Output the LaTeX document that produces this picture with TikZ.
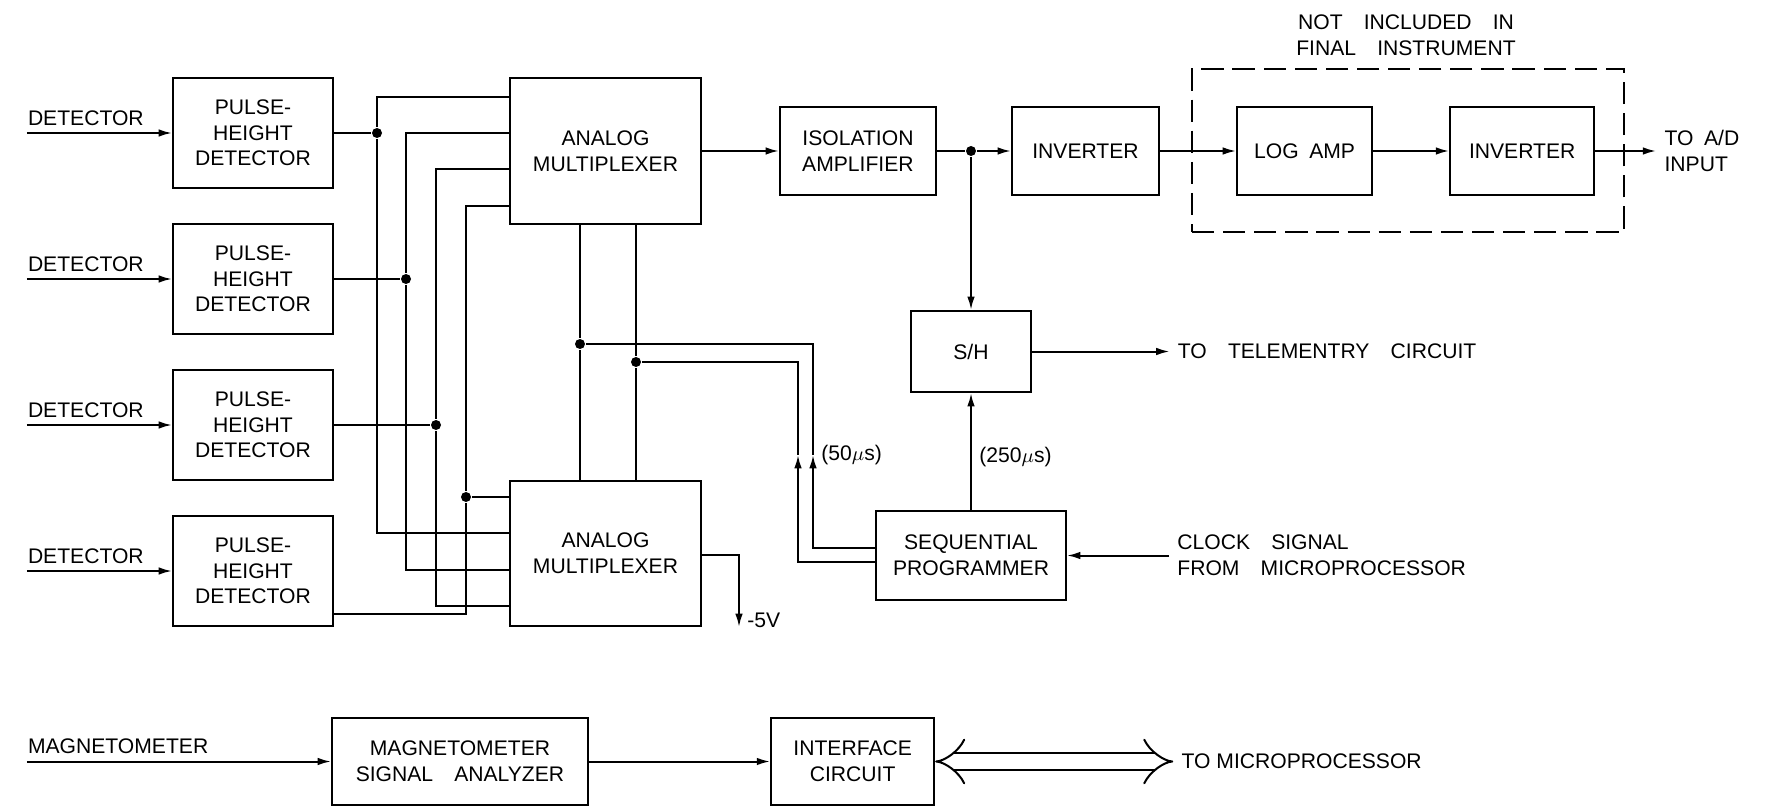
\documentclass[tikz,border=0pt]{standalone}
\usepackage{fontspec}
\setmainfont{Liberation Sans}
\usetikzlibrary{arrows.meta, positioning}

\begin{document}
\begin{tikzpicture}[
  x=0.45pt, y=-0.45pt,
  line width=0.9pt,
  every node/.style={font=\fontsize{9.5}{11.5}\selectfont},
  block/.style={draw, align=center, inner sep=2pt},
  phdbox/.style={block, minimum width=72pt, minimum height=49.5pt},
  muxbox/.style={block, minimum width=86pt, minimum height=65.5pt},
  rowbox/.style={block, minimum height=39.6pt},
  dot/.style={circle, fill, inner sep=0pt, minimum size=4.5pt},
  arr/.style={-{Latex[length=6pt, width=3.4pt]}},
  lbl/.style={inner xsep=0pt, inner ysep=3pt},
]
  \useasboundingbox (0,0) rectangle (1765,807);

  % detectors and multiplexers
  \node[phdbox] (phd1) at (253,133) {PULSE-\\HEIGHT\\DETECTOR};
  \node[phdbox, below=15.3pt of phd1] (phd2) {PULSE-\\HEIGHT\\DETECTOR};
  \node[phdbox, below=15.3pt of phd2] (phd3) {PULSE-\\HEIGHT\\DETECTOR};
  \node[phdbox, below=15.3pt of phd3] (phd4) {PULSE-\\HEIGHT\\DETECTOR};

  \node[muxbox] (mux1) at (605.5,151) {ANALOG\\MULTIPLEXER};
  \node[muxbox] (mux2) at (605.5,553.5) {ANALOG\\MULTIPLEXER};

  % signal chain
  \node[rowbox, minimum width=70.2pt, right=34.6pt of mux1] (iso) {ISOLATION\\AMPLIFIER};
  \node[rowbox, minimum width=66.2pt, right=33.3pt of iso] (inv1) {INVERTER};
  \node[rowbox, minimum width=60.8pt, right=34.2pt of inv1] (logamp) {LOG\enspace AMP};
  \node[rowbox, minimum width=64.8pt, right=34.2pt of logamp] (inv2) {INVERTER};
  \node[draw, dash pattern=on 10pt off 4pt, minimum width=194.4pt, minimum height=73.4pt] (frame) at (1408,150.5) {};
  \node[align=center] (note) at (1406,35) {NOT\quad INCLUDED\quad IN\\FINAL\quad INSTRUMENT};

  \node[block, minimum width=53.6pt, minimum height=36.5pt] (sh) at (971,351.5) {S/H};
  \node[block, minimum width=85.5pt, minimum height=40pt] (seq) at (971,555.5) {SEQUENTIAL\\PROGRAMMER};

  % magnetometer
  \node[block, minimum width=115.2pt, minimum height=39.2pt] (msa) at (460,761.5) {MAGNETOMETER\\SIGNAL\quad ANALYZER};
  \node[block, minimum width=73.4pt, minimum height=39.2pt, right=81.5pt of msa] (ic) {INTERFACE\\CIRCUIT};

  % junctions
  \node[dot] (j1) at (377,0 |- phd1.east) {};
  \node[dot] (j2) at (406,0 |- phd2.east) {};
  \node[dot] (j3) at (436,0 |- phd3.east) {};
  \node[dot] (j4) at (466,497) {};
  \node[dot] (t1) at (580,344) {};
  \node[dot] (t2) at (636,362) {};
  \node[dot] (j5) at (971,151) {};
  \coordinate (k1) at (813,455);
  \coordinate (k2) at (798,455);
  \coordinate (neg) at (739,627);

  \foreach \i in {1,...,4}
    \draw[arr] (phd\i.west) ++(-145,0) coordinate (det\i) node[above right, lbl] {DETECTOR} -- (phd\i.west);

  \draw (phd1.east) -- (j1);
  \draw (phd2.east) -- (j2);
  \draw (phd3.east) -- (j3);

  % bus to both multiplexers
  \draw (mux1.west |- 0,97) -| (j1) |- (mux2.west |- 0,533);
  \draw (mux1.west |- j1) -| (j2) |- (mux2.west |- 0,570);
  \draw (mux1.west |- 0,169) -| (j3) |- (mux2.west |- 0,606);
  \draw (mux1.west |- 0,206) -| (j4) |- (phd4.east |- 0,614);
  \draw (j4) -- (mux2.west |- j4);

  \draw (mux1.south -| t1) -- (t1) -- (mux2.north -| t1);
  \draw (mux1.south -| t2) -- (t2) -- (mux2.north -| t2);

  \draw[arr] (seq.west |- 0,548) -| (k1);
  \draw (k1) |- (t1);
  \draw[arr] (seq.west |- 0,562) -| (k2);
  \draw (k2) |- (t2);
  \node[right] at (k1) {(50$\mu$s)};

  \draw[arr] (mux2.east |- 0,555) -| (neg) node[right, yshift=3pt] {-5V};

  \draw[arr] (mux1.east) -- (iso.west);
  \draw (iso.east) -- (j5);
  \draw[arr] (j5) -- (inv1.west);
  \draw[arr] (inv1.east) -- (logamp.west);
  \draw[arr] (logamp.east) -- (inv2.west);
  \draw[arr] (inv2.east) -- ++(61,0) coordinate (ad) node[right, align=left] {TO\enspace A/D\\INPUT};

  \draw[arr] (j5) -- (sh.north);
  \draw[arr] (sh.east) -- ++(138,0) coordinate (tm) node[right] {TO\quad TELEMENTRY\quad CIRCUIT};
  \draw[arr] (seq.north) -- node[right, pos=0.45] {(250$\mu$s)} (sh.south);
  \draw[arr] (seq.east) ++(102,0) coordinate (clk) node[right, align=left] {CLOCK\quad SIGNAL\\FROM\quad MICROPROCESSOR} -- (seq.east);

  \draw[arr] (msa.west) ++(-304,0) coordinate (mag) node[above right, lbl] {MAGNETOMETER} -- (msa.west);
  \draw[arr] (msa.east) -- (ic.west);
  \draw[double, double distance=6.5pt, {Implies}-{Implies}] (ic.east) -- ++(238,0) coordinate (up) node[right] {TO MICROPROCESSOR};
\end{tikzpicture}
\end{document}
